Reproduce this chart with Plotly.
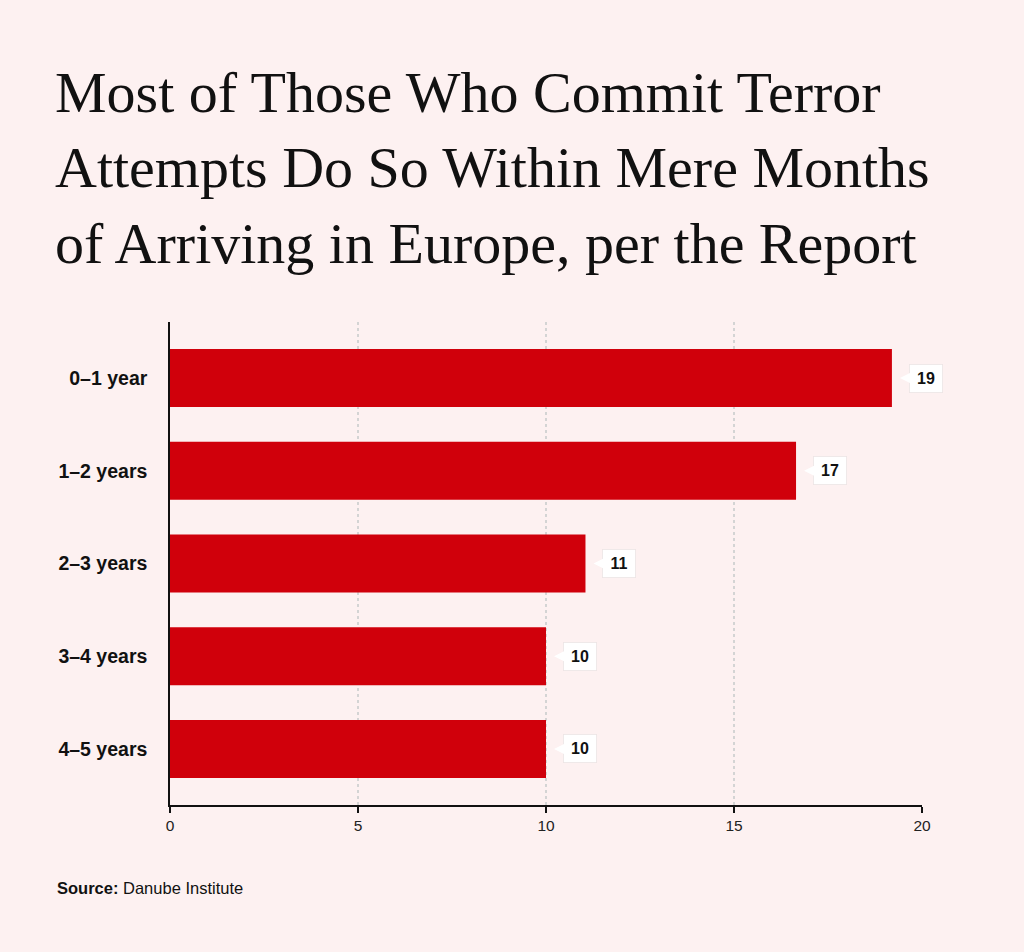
import plotly.graph_objects as go

categories = ["0–1 year", "1–2 years", "2–3 years", "3–4 years", "4–5 years"]
values = [19.2, 16.65, 11.05, 10.0, 10.0]
value_labels = ["19", "17", "11", "10", "10"]
x_ticks = [0, 5, 10, 15, 20]

title_text = ("Most of Those Who Commit Terror<br>"
              "Attempts Do So Within Mere Months<br>"
              "of Arriving in Europe, per the Report")

BG = "#fdf1f1"
BAR = "#d0000b"
SANS = "Liberation Sans, Arial, Helvetica, sans-serif"

fig = go.Figure()
fig.add_trace(go.Bar(
    y=categories, x=values, orientation="h",
    marker=dict(color=BAR, line=dict(width=0)),
    width=0.625, hoverinfo="skip",
))

for cat, val, lab in zip(categories, values, value_labels):
    fig.add_annotation(
        x=val, y=cat, xref="x", yref="y",
        text="<b>" + lab + "</b>",
        showarrow=True, ax=34, ay=0, axref="pixel", ayref="pixel",
        arrowhead=2, arrowsize=1.4, arrowwidth=2, arrowcolor="white",
        standoff=8,
        bgcolor="white", borderpad=6, bordercolor="rgba(0,0,0,0.06)", borderwidth=1,
        width=20, height=15,
        font=dict(family=SANS, size=16, color="#111111"),
    )

fig.add_annotation(
    x=(55 - 170) / 752, y=(805 - 888) / 483, xref="paper", yref="paper",
    xanchor="left", yanchor="middle",
    text="<b>Source:</b> Danube Institute", showarrow=False,
    font=dict(family=SANS, size=16.5, color="#111111"),
)

fig.update_layout(
    width=1024, height=952,
    paper_bgcolor=BG, plot_bgcolor=BG,
    margin=dict(l=170, r=102, t=322, b=147, autoexpand=False),
    showlegend=False,
    title=dict(
        text=title_text,
        x=55 / 1024, xanchor="left", xref="container",
        y=1 - 112 / 952, yanchor="top", yref="container",
        font=dict(family="Liberation Serif, Times New Roman, serif", size=58, color="#111111"),
    ),
    xaxis=dict(
        range=[0, 20], tickvals=x_ticks, ticktext=[str(t) for t in x_ticks],
        showgrid=True, gridcolor="#d4d4d4", griddash="3px,3px", gridwidth=1.5,
        showline=True, linecolor="#111111", linewidth=1.5,
        ticks="outside", ticklen=6, tickcolor="#111111", tickwidth=1.5,
        tickfont=dict(family=SANS, size=15.5, color="#222222"),
        zeroline=False, fixedrange=True,
    ),
    yaxis=dict(
        autorange=False, range=[4.604, -0.604],
        showgrid=False, showline=True, linecolor="#111111", linewidth=1.5,
        ticks="", ticklabelstandoff=17,
        tickfont=dict(family=SANS, size=19.5, color="#111111", weight="bold"),
        zeroline=False, fixedrange=True,
    ),
    bargap=0.375,
)

fig.write_html(
    "out.html",
    config={"displayModeBar": False},
    post_script="document.body.style.margin='0';document.body.style.background='" + BG + "';",
)
